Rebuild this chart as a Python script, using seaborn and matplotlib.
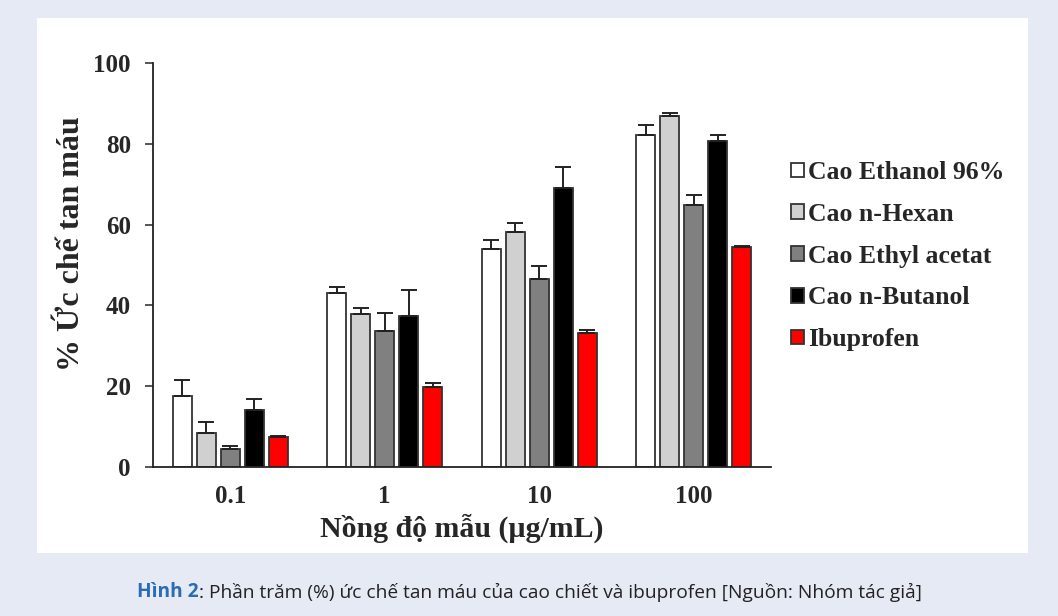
import numpy as np
import pandas as pd
import matplotlib
matplotlib.use("Agg")
import matplotlib.pyplot as plt
from matplotlib.patches import Rectangle
import seaborn as sns

sns.set_style("ticks")
plt.rcParams["font.family"] = ["Liberation Serif", "DejaVu Serif"]

# data
concentrations = ["0.1", "1", "10", "100"]
series = ["Cao Ethanol 96%", "Cao n-Hexan", "Cao Ethyl acetat", "Cao n-Butanol", "Ibuprofen"]
ethanol = [17.6, 43.0, 54.0, 82.1]
hexan = [8.4, 37.8, 58.1, 87.0]
ethyl = [4.5, 33.7, 46.5, 64.9]
butanol = [14.1, 37.5, 69.0, 80.7]
ibuprofen = [7.4, 19.8, 33.2, 54.5]
ethanol_sd = [3.9, 1.6, 2.2, 2.6]
hexan_sd = [2.7, 1.5, 2.3, 0.7]
ethyl_sd = [0.7, 4.5, 3.3, 2.5]
butanol_sd = [2.7, 6.3, 5.3, 1.5]
ibuprofen_sd = [0.3, 1.1, 0.8, 0.3]
colors = ["#ffffff", "#d0d0d0", "#808080", "#000000", "#ff0000"]

values = [ethanol, hexan, ethyl, butanol, ibuprofen]
sds = [ethanol_sd, hexan_sd, ethyl_sd, butanol_sd, ibuprofen_sd]
rows = []
for name, vals, errs in zip(series, values, sds):
    for c, v, e in zip(concentrations, vals, errs):
        rows.append({"conc": c, "series": name, "value": v, "sd": e})
df = pd.DataFrame(rows)

fig = plt.figure(figsize=(10.58, 6.16), dpi=100, facecolor="#e6eaf5")
fig.patches.append(Rectangle((37 / 1058, 1 - 553 / 616), (1028 - 37) / 1058, (553 - 18) / 616,
                             transform=fig.transFigure, facecolor="white", edgecolor="none", zorder=-5))
ax = fig.add_axes([153 / 1058, 1 - 467 / 616, (771 - 153) / 1058, (467 - 63) / 616])
ax.set_facecolor("none")

sns.barplot(data=df, x="conc", y="value", hue="series", order=concentrations, hue_order=series,
            palette=colors, saturation=1, width=0.775, gap=0.2, edgecolor="#333333", linewidth=1.3,
            errorbar=None, ax=ax, legend=True)

# upper-only error bars placed on the seaborn bars
for container, name in zip(ax.containers, series):
    sub = df[df["series"] == name].set_index("conc").loc[concentrations]
    xs = [p.get_x() + p.get_width() / 2 for p in container.patches]
    hs = [p.get_height() for p in container.patches]
    ax.errorbar(xs, hs, yerr=[np.zeros(len(xs)), sub["sd"].values], fmt="none",
                ecolor="#222222", elinewidth=1.4, capsize=6, capthick=1.4, zorder=1)

ax.set_ylim(0, 100)
ax.set_xlim(-0.5, 3.5)
ax.set_yticks([0, 20, 40, 60, 80, 100])
ax.tick_params(axis="y", direction="out", length=6, width=1.1, labelsize=18, pad=10)
ax.tick_params(axis="x", length=0, labelsize=18, pad=13)
for lab in ax.get_xticklabels() + ax.get_yticklabels():
    lab.set_fontweight("bold")
for s in ["top", "right"]:
    ax.spines[s].set_visible(False)
for s in ["left", "bottom"]:
    ax.spines[s].set_linewidth(1.3)
    ax.spines[s].set_color("#222222")

ax.set_xlabel("Nồng độ mẫu (µg/mL)", fontsize=21.5, fontweight="bold", labelpad=4)
ax.set_ylabel("% Ức chế tan máu", fontsize=23, fontweight="bold")
ax.yaxis.set_label_coords(-0.108, 0.552)

handles, labels = ax.get_legend_handles_labels()
ax.legend(handles, labels, loc="upper left", bbox_to_anchor=(768 / 1058, 1 - 138 / 616),
          bbox_transform=fig.transFigure, frameon=False, handlelength=0.5, handleheight=0.5,
          handletextpad=0.15, labelspacing=0.73, prop={"family": "Liberation Serif", "weight": "bold", "size": 18.5})

t1 = fig.text(137 / 1058, 1 - 592 / 616, "Hình 2", color="#2a6cb5", fontweight="bold", fontsize=13.8,
              family="Open Sans", va="center", ha="left")
fig.canvas.draw()
bb = t1.get_window_extent()
fig.text(bb.x1 / 1058, 1 - 592 / 616, ": Phần trăm (%) ức chế tan máu của cao chiết và ibuprofen [Nguồn: Nhóm tác giả]",
         color="#222222", fontsize=13.8, family="Open Sans", va="center", ha="left")

fig.savefig("out.png", dpi=100, facecolor=fig.get_facecolor())
